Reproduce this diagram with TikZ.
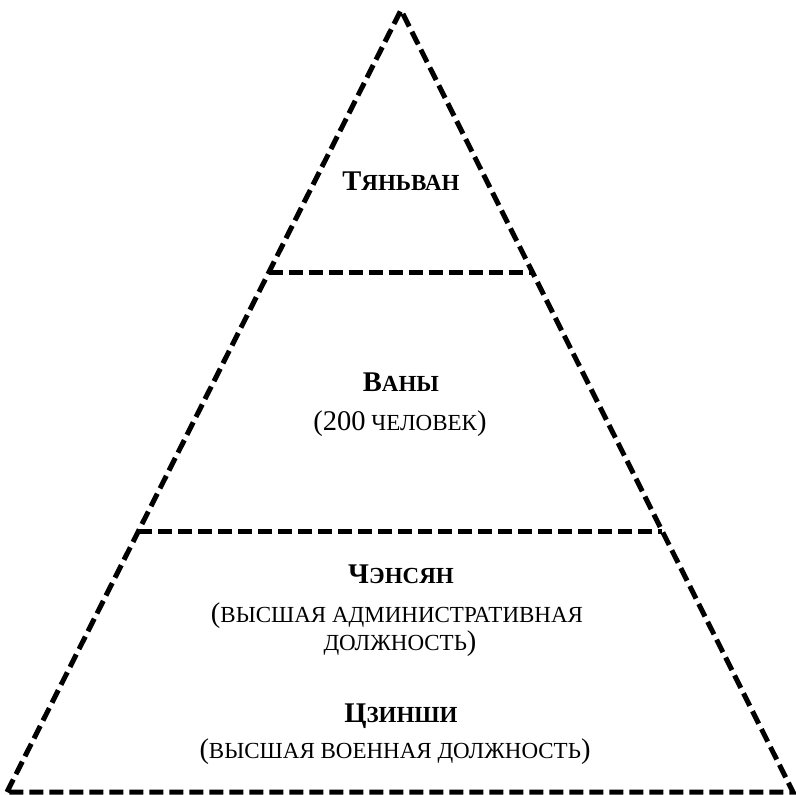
\documentclass[tikz,border=0pt]{standalone}
\usepackage{fontspec}
\setmainfont{Liberation Serif}
\usepackage{tikz}
\usetikzlibrary{calc}
\newcommand{\drawdash}{\draw[line width=5pt, dash pattern=on 14pt off 6pt]}
\newcommand{\smcap}[2]{{\fontsize{28.5}{32}\selectfont #1}{\fontsize{23}{32}\selectfont #2}}
\newcommand{\lowcap}[1]{{\fontsize{23}{32}\selectfont #1}}
\tikzset{label text/.style={anchor=base, inner sep=0pt}}

\begin{document}
\begin{tikzpicture}[x=1pt, y=-1pt]
\useasboundingbox (0,0) rectangle (796,795);
\coordinate (apex) at (401,10);
\coordinate (left) at (7,792);
\coordinate (right) at (793,792);
\drawdash (left)--(apex)--(right)--cycle;
\drawdash ($(left)!0.333!(apex)$)--($(right)!0.333!(apex)$);
\drawdash ($(left)!0.664!(apex)$)--($(right)!0.664!(apex)$);
\node[label text] (tianwang) at (401,190) {\bfseries\smcap{Т}{ЯНЬВАН}};
\node[label text] (wang) at (401,391) {\bfseries\smcap{В}{АНЫ}};
\node[label text] (wangnum) at (400,430) {\smcap{(200}{ ЧЕЛОВЕК}\smcap{)}{}};
\node[label text] (chengxiang) at (401,583) {\bfseries\smcap{Ч}{ЭНСЯН}};
\node[label text] (chengdesc1) at (397,622) {\smcap{(}{ВЫСШАЯ АДМИНИСТРАТИВНАЯ}};
\node[label text] (chengdesc2) at (400,650) {\lowcap{ДОЛЖНОСТЬ}\smcap{)}{}};
\node[label text] (jinshi) at (401,722) {\bfseries\smcap{Ц}{ЗИНШИ}};
\node[label text] (jinshidesc) at (395,758) {\smcap{(}{ВЫСШАЯ ВОЕННАЯ ДОЛЖНОСТЬ}\smcap{)}{}};
\end{tikzpicture}
\end{document}
